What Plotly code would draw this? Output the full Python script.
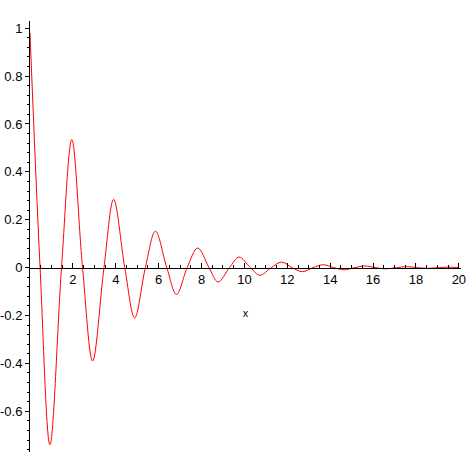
import plotly.graph_objects as go

# values (extrema and zero crossings of the damped wave)
x_vals = [0, 0.47, 0.93, 1.47, 1.95, 2.45, 2.92, 3.45, 3.9, 4.42, 4.88, 5.38,
          5.85, 6.38, 6.83, 7.33, 7.82, 8.35, 8.77, 9.3, 9.75, 10.28, 10.72,
          11.25, 11.73, 12.22, 12.7, 13.2, 13.68, 14.17, 14.65, 15.15, 15.62,
          16.1, 16.6, 17.1, 17.57, 18.06, 18.55, 19.05, 19.52, 20]
y_vals = [0.98, 0, -0.74, 0, 0.535, 0, -0.39, 0, 0.285, 0, -0.21, 0,
          0.152, 0, -0.112, 0, 0.082, 0, -0.06, 0, 0.044, 0, -0.032,
          0, 0.023, 0, -0.017, 0, 0.012, 0, -0.009, 0, 0.007,
          0, -0.005, 0, 0.004, 0, -0.003, 0, 0.002, 0]

x_ticks = [2, 4, 6, 8, 10, 12, 14, 16, 18, 20]
x_labels = ["2", "4", "6", "8", "10", "12", "14", "16", "18", "20"]
y_ticks = [-0.6, -0.4, -0.2, 0, 0.2, 0.4, 0.6, 0.8, 1]
y_labels = ["-0.6", "-0.4", "-0.2", "0", "0.2", "0.4", "0.6", "0.8", "1"]

y_min, y_max = -0.77, 1.03

fig = go.Figure()
fig.add_trace(go.Scatter(x=x_vals, y=y_vals, mode="lines",
                         line=dict(color="#ff0000", width=1, shape="spline", smoothing=1.0),
                         showlegend=False, hoverinfo="skip"))

font = dict(family="Liberation Sans, Arial, sans-serif", size=13, color="black")

fig.update_layout(
    width=473, height=473,
    margin=dict(l=30, r=12, t=21, b=21),
    paper_bgcolor="white", plot_bgcolor="white",
    font=font,
    xaxis=dict(range=[0, 20.1], anchor="free", position=(0 - y_min) / (y_max - y_min),
               automargin=False,
               showgrid=False, zeroline=False, showline=True, linecolor="black", linewidth=1,
               ticks="inside", ticklen=5, tickcolor="black", tickwidth=1,
               tickvals=x_ticks, ticktext=x_labels, tickfont=font,
               minor=dict(dtick=0.5, ticks="inside", ticklen=3, tickcolor="black", showgrid=False),
               title=dict(text="x", font=dict(family="Liberation Sans, Arial, sans-serif", size=11, color="black"),
                          standoff=23)),
    yaxis=dict(range=[y_min, y_max], automargin=False,
               showgrid=False, zeroline=False, showline=True,
               linecolor="black", linewidth=1,
               ticks="outside", ticklen=4, tickcolor="black", tickwidth=1,
               tickvals=y_ticks, ticktext=y_labels, tickfont=font,
               minor=dict(dtick=0.04, ticks="outside", ticklen=2, tickcolor="black", showgrid=False)),
)

fig.write_html("out.html", config={"displayModeBar": False},
               post_script="document.body.style.margin='0';document.body.style.padding='0';")
